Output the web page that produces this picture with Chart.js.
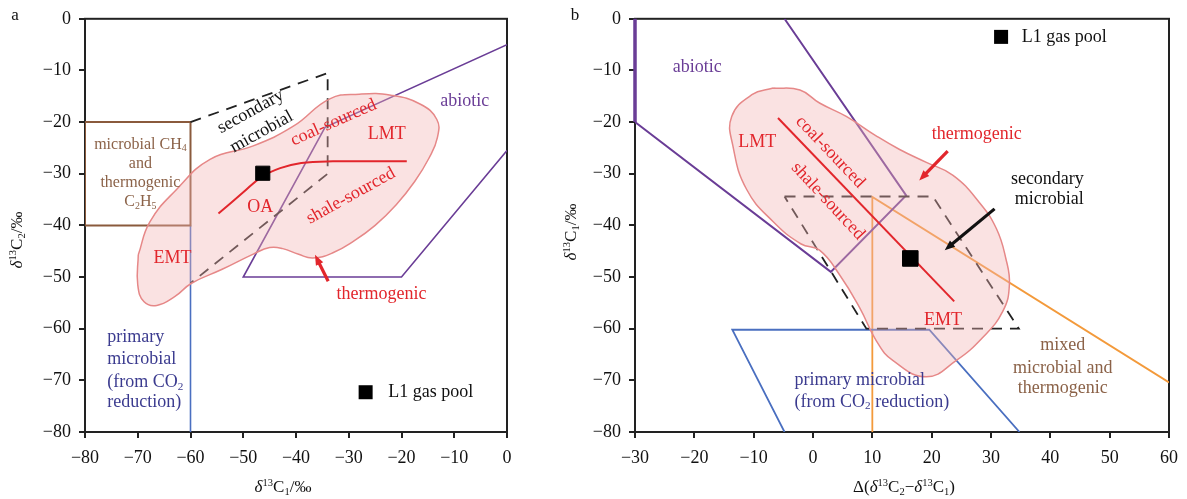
<!DOCTYPE html>
<html>
<head>
<meta charset="utf-8">
<script src="https://cdn.jsdelivr.net/npm/chart.js@4.4.1/dist/chart.umd.min.js"></script>
<style>
  html, body { margin: 0; padding: 0; background: #fff; }
  #wrap { position: relative; width: 1187px; height: 499px; }
  canvas { position: absolute; top: 0; }
  #chartA { left: 0; }
  #chartB { left: 560px; }
</style>
</head>
<body>
<div id="wrap">
  <canvas id="chartA" width="560" height="499"></canvas>
  <canvas id="chartB" width="627" height="499"></canvas>
</div>
<script>
// ---- panel a: delta13C1 vs delta13C2 ----
const xTicksA = [-80, -70, -60, -50, -40, -30, -20, -10, 0];
const yTicksA = [-80, -70, -60, -50, -40, -30, -20, -10, 0];
const envelopeA = [[-69.9,-45.7],[-67.7,-39.3],[-62.6,-33],[-56.3,-27.2],[-48.1,-24.6],[-40.5,-20.8],[-33.6,-15.5],
  [-28,-14.6],[-22,-14.8],[-16.5,-16.5],[-13.3,-19.5],[-13.2,-23],[-14.8,-27],[-17.5,-31.5],[-21,-36],
  [-25,-40],[-29,-43],[-33,-45.3],[-36.8,-46.3],[-39.5,-45.6],[-42.5,-44.5],[-45,-44.3],[-48,-45.5],
  [-54,-48.5],[-59.8,-51.2],[-63,-53.8],[-66.4,-55.5],[-68.8,-54.8],[-70,-51.5]];
const trendA = [[-54.7,-37.7],[-50,-33.6],[-46.5,-30.6],[-43,-28.9],[-39,-27.9],[-33,-27.6],[-19,-27.6]];
const secondaryA = [[-60,-20],[-34,-10.5],[-34,-30],[-60,-51.2]];
const abioticA = [[0,-5],[-34.5,-21],[-50,-50],[-20,-50],[0,-25.5]];
const boxA = [[-80,-20],[-60,-20],[-60,-40],[-80,-40]];
const primaryA = [[-60,-40],[-60,-80]];
const poolA = [[-46.3,-29.9]];

// ---- panel b: delta(13C2-13C1) vs delta13C1 ----
const xTicksB = [-30, -20, -10, 0, 10, 20, 30, 40, 50, 60];
const yTicksB = [-80, -70, -60, -50, -40, -30, -20, -10, 0];
const envelopeB = [[-6.7,-13.4],[-2.2,-13.8],[1.1,-16.3],[5.6,-18.9],[10.7,-22.7],[14.6,-25.3],[19.1,-27.8],
  [23.6,-30.3],[28,-35.5],[30.9,-40.6],[32.5,-46.4],[33.1,-51.5],[32,-56.6],[28.6,-61.7],[24.1,-66.2],
  [19.1,-69.3],[13.5,-66.2],[10.7,-62.4],[7.9,-56],[4.5,-49.6],[1.1,-44.8],[-2,-43.6],[-6.7,-39.3],
  [-11.2,-33],[-13.5,-24.6],[-13.7,-18.9],[-10.3,-14.7]];
const trendB = [[-5.9,-19.2],[23.8,-54.7]];
const secondaryB = [[-4.8,-34.4],[20.2,-34.4],[34.7,-60],[9,-60],[-4.8,-34.4]];
const abioticB = [[-30,-20],[3,-49],[15.7,-34.2],[-4.8,0]];
const abioticEdgeB = [[-30,0],[-30,-20]];
const primaryB = [[-4.8,-80],[-13.6,-60.2],[19.6,-60.2],[34.8,-80]];
const mixedB = [[10,-80],[10,-34.5],[60,-70.4]];
const poolB = [[16.4,-46.4]];

const RED = '#e2262c', PURPLE = '#6a3d96', NAVY = '#3b3b8f', BROWN = '#8b6248';
const FONT = '"Liberation Serif", "Times New Roman", serif';

const xy = pts => pts.map(([x, y]) => ({ x, y }));
const closed = pts => pts.concat([pts[0]]);

// draws text with ^{sup}, _{sub} and *italic* parts
function richText(ctx, str, x, y, size, color, align) {
  const parts = [];
  str.replace(/\^\{([^}]*)\}|_\{([^}]*)\}|\*([^*]*)\*|([^^_*]+)/g, (m, sup, sub, it, plain) => {
    if (sup != null) parts.push({ t: sup, s: size * 0.62, dy: -size * 0.3 });
    else if (sub != null) parts.push({ t: sub, s: size * 0.62, dy: size * 0.25 });
    else if (it != null) parts.push({ t: it, s: size, dy: 0, it: true });
    else parts.push({ t: plain, s: size, dy: 0 });
    return m;
  });
  const fontOf = p => (p.it ? 'italic ' : '') + p.s + 'px ' + FONT;
  let w = 0;
  for (const p of parts) { ctx.font = fontOf(p); p.w = ctx.measureText(p.t).width; w += p.w; }
  let cx = align === 'left' ? x : x - w / 2;
  ctx.fillStyle = color;
  ctx.textAlign = 'left';
  ctx.textBaseline = 'middle';
  for (const p of parts) { ctx.font = fontOf(p); ctx.fillText(p.t, cx, y + p.dy); cx += p.w; }
}

function arrow(ctx, x1, y1, x2, y2, color, w) {
  const a = Math.atan2(y2 - y1, x2 - x1), h = 11;
  ctx.strokeStyle = color; ctx.fillStyle = color; ctx.lineWidth = w;
  ctx.beginPath(); ctx.moveTo(x1, y1);
  ctx.lineTo(x2 - h * 0.8 * Math.cos(a), y2 - h * 0.8 * Math.sin(a)); ctx.stroke();
  ctx.beginPath(); ctx.moveTo(x2, y2);
  ctx.lineTo(x2 - h * Math.cos(a - 0.38), y2 - h * Math.sin(a - 0.38));
  ctx.lineTo(x2 - h * Math.cos(a + 0.38), y2 - h * Math.sin(a + 0.38));
  ctx.closePath(); ctx.fill();
}

// labels, arrows, legend, frame and axis titles
function decorations(cfg) {
  return {
    id: 'decorations',
    beforeDatasetsDraw(chart) {
      const { ctx, chartArea: a } = chart;
      ctx.save();
      ctx.strokeStyle = '#222'; ctx.lineWidth = 2;
      ctx.strokeRect(a.left, a.top, a.right - a.left, a.bottom - a.top);
      ctx.restore();
    },
    afterDraw(chart) {
      const { ctx, scales: { x, y } } = chart;
      const px = v => x.getPixelForValue(v), py = v => y.getPixelForValue(v);
      ctx.save();
      for (const n of cfg.notes) {
        ctx.save();
        ctx.translate(px(n.x), py(n.y));
        ctx.rotate((n.rot || 0) * Math.PI / 180);
        richText(ctx, n.text, 0, 0, n.size || 18, n.color, n.align);
        ctx.restore();
      }
      for (const r of cfg.arrows) arrow(ctx, px(r[0]), py(r[1]), px(r[2]), py(r[3]), r[4], 3.2);
      const lg = cfg.legend;
      ctx.fillStyle = '#000';
      ctx.fillRect(px(lg.x) - 7, py(lg.y) - 7, 14, 14);
      richText(ctx, lg.text, px(lg.tx), py(lg.y), 18, '#111', 'left');
      richText(ctx, cfg.letter, 15, 16, 17, '#111');
      richText(ctx, cfg.xTitle[0], cfg.xTitle[1], cfg.xTitle[2], 17, '#111');
      ctx.save();
      ctx.translate(cfg.yTitle[1], cfg.yTitle[2]);
      ctx.rotate(-Math.PI / 2);
      richText(ctx, cfg.yTitle[0], 0, 0, 17, '#111');
      ctx.restore();
      ctx.restore();
    }
  };
}

function axis(min, max, ticks, isX, size) {
  return {
    type: 'linear', min, max,
    afterBuildTicks: s => { s.ticks = ticks.map(v => ({ value: v })); },
    afterFit: s => { if (isX) s.height = size; else s.width = size; },
    ticks: {
      autoSkip: false, maxRotation: 0, color: '#111', padding: isX ? 9 : 8,
      font: { family: FONT, size: 18 },
      callback: v => String(v).replace('-', '\u2212')
    },
    grid: { drawOnChartArea: false, drawTicks: true, tickLength: 6, color: '#222', lineWidth: 2 },
    border: { color: '#222', width: 2 }
  };
}

function line(label, pts, color, extra) {
  return Object.assign({ label, data: xy(pts), showLine: true, borderColor: color,
    borderWidth: 1.6, pointRadius: 0, fill: false, order: 3 }, extra || {});
}

function envelope(pts) {
  return line('thermogenic', closed(pts), '#e68888', {
    backgroundColor: 'rgba(243,178,178,0.38)', fill: 'shape', tension: 0.45, borderWidth: 1.5, order: 2 });
}

function pool(pts, r) {
  return { label: 'L1 gas pool', data: xy(pts), showLine: false, pointStyle: 'rect',
    pointRadius: r, backgroundColor: '#000', borderColor: '#000', order: 0 };
}

const common = {
  responsive: false, animation: false,
  plugins: { legend: { display: false }, tooltip: { enabled: false } }
};

new Chart(document.getElementById('chartA'), {
  type: 'scatter',
  data: {
    datasets: [
      pool(poolA, 10),
      line('OA trend', trendA, RED, { borderWidth: 2, tension: 0.4, order: 1 }),
      envelope(envelopeA),
      line('secondary microbial', secondaryA, '#222', { borderDash: [11, 8], borderWidth: 1.8 }),
      line('abiotic', abioticA, PURPLE),
      line('microbial CH4 and thermogenic C2H5', closed(boxA), '#8a5a3c', { borderWidth: 2 }),
      line('primary microbial', primaryA, '#4a6fc0')
    ]
  },
  options: Object.assign({}, common, {
    layout: { padding: { left: 0, top: 15, right: 53, bottom: 0 } },
    scales: { x: axis(-80, 0, xTicksA, true, 67), y: axis(-80, 0, yTicksA, false, 85) }
  }),
  plugins: [decorations({
    letter: 'a',
    xTitle: ['*δ*^{13}C_{1}/‰', 283, 488],
    yTitle: ['*δ*^{13}C_{2}/‰', 18, 240],
    notes: [
      { text: 'microbial CH_{4}', x: -69.5, y: -24.4, color: BROWN, size: 16 },
      { text: 'and', x: -69.5, y: -28.1, color: BROWN, size: 16 },
      { text: 'thermogenic', x: -69.5, y: -31.7, color: BROWN, size: 16 },
      { text: 'C_{2}H_{5}', x: -69.5, y: -35.5, color: BROWN, size: 16 },
      { text: 'secondary', x: -48.6, y: -18.0, rot: -29, color: '#111' },
      { text: 'microbial', x: -46.5, y: -21.9, rot: -29, color: '#111' },
      { text: 'coal-sourced', x: -32.9, y: -20.1, rot: -24, color: RED },
      { text: 'LMT', x: -22.8, y: -22.4, color: RED },
      { text: 'shale-sourced', x: -29.6, y: -34.3, rot: -29, color: RED },
      { text: 'OA', x: -46.8, y: -36.5, color: RED },
      { text: 'EMT', x: -63.4, y: -46.4, color: RED },
      { text: 'abiotic', x: -8, y: -16, color: PURPLE },
      { text: 'thermogenic', x: -23.8, y: -53.4, color: RED },
      { text: 'primary', x: -75.8, y: -61.7, align: 'left', color: NAVY },
      { text: 'microbial', x: -75.8, y: -65.9, align: 'left', color: NAVY },
      { text: '(from CO_{2}', x: -75.8, y: -70.4, align: 'left', color: NAVY },
      { text: 'reduction)', x: -75.8, y: -74.2, align: 'left', color: NAVY }
    ],
    arrows: [[-33.9, -50.8, -36.4, -45.7, RED]],
    legend: { x: -26.8, y: -72.3, tx: -22.5, text: 'L1 gas pool' }
  })]
});

new Chart(document.getElementById('chartB'), {
  type: 'scatter',
  data: {
    datasets: [
      pool(poolB, 11),
      line('coal/shale trend', trendB, RED, { borderWidth: 2, order: 1 }),
      envelope(envelopeB),
      line('secondary microbial', secondaryB, '#222', { borderDash: [11, 8], borderWidth: 1.8 }),
      line('abiotic', abioticB, PURPLE, { borderWidth: 2 }),
      line('abiotic edge', abioticEdgeB, PURPLE, { borderWidth: 3.5, clip: false }),
      line('primary microbial', primaryB, '#4a6fc0', { borderWidth: 1.8 }),
      line('mixed microbial and thermogenic', mixedB, '#f39a3b', { borderWidth: 1.8 })
    ]
  },
  options: Object.assign({}, common, {
    layout: { padding: { left: 0, top: 15, right: 17, bottom: 0 } },
    scales: { x: axis(-30, 60, xTicksB, true, 67), y: axis(-80, 0, yTicksB, false, 75) }
  }),
  plugins: [decorations({
    letter: 'b',
    xTitle: ['Δ(*δ*^{13}C_{2}−*δ*^{13}C_{1})', 344, 488],
    yTitle: ['*δ*^{13}C_{1}/‰', 12, 232],
    notes: [
      { text: 'abiotic', x: -19.5, y: -9.3, color: PURPLE },
      { text: 'LMT', x: -9.4, y: -24, color: RED },
      { text: 'coal-sourced', x: 2.9, y: -25.8, rot: 46.5, color: RED },
      { text: 'shale-sourced', x: 2.5, y: -35.3, rot: 47, color: RED },
      { text: 'thermogenic', x: 27.6, y: -22.4, color: RED },
      { text: 'secondary', x: 39.5, y: -31, color: '#111' },
      { text: 'microbial', x: 39.8, y: -34.9, color: '#111' },
      { text: 'EMT', x: 21.9, y: -58.3, color: RED },
      { text: 'primary microbial', x: -3.1, y: -70, align: 'left', color: NAVY },
      { text: '(from CO_{2} reduction)', x: -3.1, y: -74.2, align: 'left', color: NAVY },
      { text: 'mixed', x: 42.1, y: -63.3, color: BROWN },
      { text: 'microbial and', x: 42.1, y: -67.6, color: BROWN },
      { text: 'thermogenic', x: 42.1, y: -71.6, color: BROWN }
    ],
    arrows: [[22.7, -25.6, 17.9, -31.3, RED], [30.6, -36.8, 22.2, -44.8, '#111']],
    legend: { x: 31.7, y: -3.5, tx: 35.2, text: 'L1 gas pool' }
  })]
});
</script>
</body>
</html>
